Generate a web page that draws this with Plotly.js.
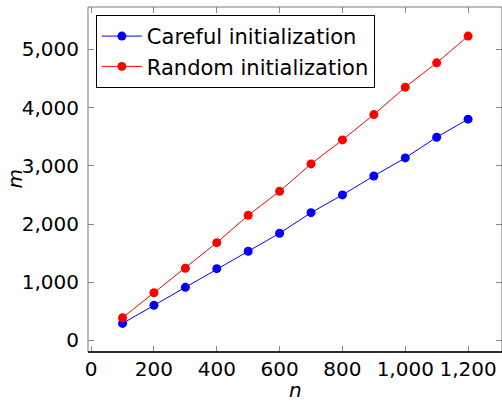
<!DOCTYPE html>
<html>
<head>
<meta charset="utf-8">
<script src="https://cdn.plot.ly/plotly-3.0.1.min.js"></script>
<style>
html,body{margin:0;padding:0;background:#fff;}
#chart{width:502px;height:405px;}
</style>
</head>
<body>
<div id="chart"></div>
<script>
const nValues = [100, 200, 300, 400, 500, 600, 700, 800, 900, 1000, 1100, 1200];
const carefulM = [292, 602, 912, 1232, 1531, 1841, 2195, 2500, 2826, 3136, 3492, 3802];
const randomM = [389, 819, 1239, 1679, 2150, 2563, 3033, 3446, 3881, 4352, 4770, 5230];
const seriesNames = ["Careful initialization", "Random initialization"];
const xTicks = [0, 200, 400, 600, 800, 1000, 1200];
const yTicks = [0, 1000, 2000, 3000, 4000, 5000];
const xTitle = "n";
const yTitle = "m";

const font = {family: "DejaVu Sans", size: 20, color: "#000"};

const traces = [
  {x: nValues, y: carefulM, name: seriesNames[0], type: "scatter", mode: "lines+markers",
   line: {color: "#0000ff", width: 1}, marker: {color: "#0000ff", size: 9}},
  {x: nValues, y: randomM, name: seriesNames[1], type: "scatter", mode: "lines+markers",
   line: {color: "#ff0000", width: 1}, marker: {color: "#ff0000", size: 9}}
];

const layout = {
  width: 502, height: 405,
  margin: {l: 88, r: 0, t: 7, b: 53},
  paper_bgcolor: "#fff", plot_bgcolor: "#fff",
  font: font,
  showlegend: true,
  legend: {x: 0.019, y: 0.977, xanchor: "left", yanchor: "top",
           bordercolor: "#000", borderwidth: 1, bgcolor: "#fff",
           font: {family: "DejaVu Sans", size: 21, color: "#000"},
           itemwidth: 40, tracegroupgap: 0},
  xaxis: {
    range: [-10, 1308], tickvals: xTicks, tickformat: ",d",
    ticks: "inside", ticklen: 6, tickcolor: "#888", tickwidth: 1,
    showgrid: false, zeroline: false, showline: false, mirror: "ticks",
    tickfont: font, ticklabelstandoff: 3
  },
  yaxis: {
    range: [-200, 5730], tickvals: yTicks, tickformat: ",d",
    ticks: "inside", ticklen: 6, tickcolor: "#888", tickwidth: 1,
    showgrid: false, zeroline: false, showline: false, mirror: "ticks",
    tickfont: font, ticklabelstandoff: 8
  },
  annotations: [
    {text: "<i>" + xTitle + "</i>", xref: "paper", yref: "paper", x: 0.5, y: 0,
     xanchor: "center", yanchor: "middle", yshift: -38, showarrow: false, font: font},
    {text: "<i>" + yTitle + "</i>", xref: "paper", yref: "paper", x: 0, y: 0.5,
     xanchor: "center", yanchor: "middle", xshift: -74, textangle: -90, showarrow: false, font: font}
  ],
  shapes: [
    {type: "rect", xref: "paper", yref: "paper", x0: 0, x1: 1, y0: 0, y1: 1,
     line: {color: "#777", width: 1}},
    {type: "line", xref: "paper", yref: "paper", x0: 0, x1: 1, y0: 0, y1: 0,
     line: {color: "#000", width: 1.5}}
  ]
};

Plotly.newPlot("chart", traces, layout, {displayModeBar: false, staticPlot: true});
</script>
</body>
</html>
